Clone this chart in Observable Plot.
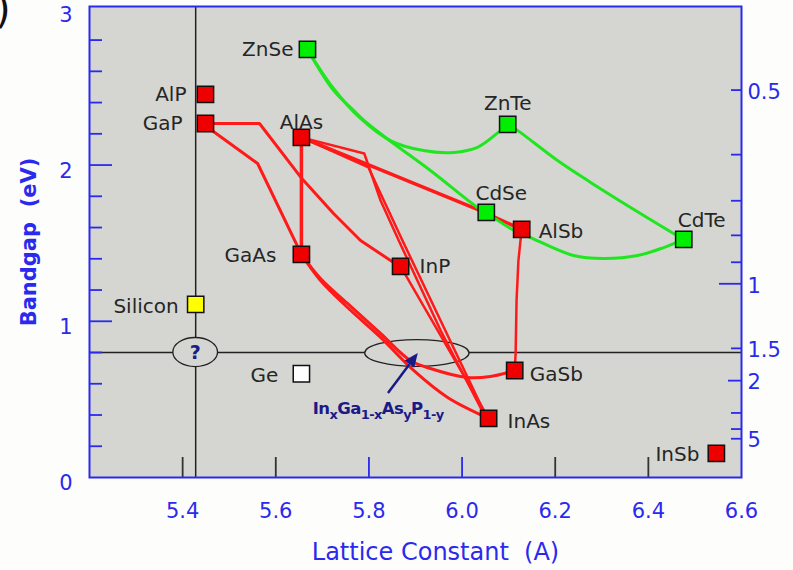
<!DOCTYPE html>
<html><head><meta charset="utf-8">
<script src="https://cdn.jsdelivr.net/npm/d3@7"></script>
<script src="https://cdn.jsdelivr.net/npm/@observablehq/plot@0.6"></script>
<style>
html,body{margin:0;padding:0;background:#fdfdfb;}
#wrap{position:relative;width:793px;height:570px;overflow:hidden;}
#paren{position:absolute;left:-5px;top:-11px;font:40px "DejaVu Sans",sans-serif;color:#111;z-index:2;line-height:1;}
svg{font-family:"DejaVu Sans",sans-serif;white-space:pre;}
</style></head><body><div id="wrap"><div id="paren">)</div></div>
<script>
// ---------- data ----------
const compounds   = ["ZnSe","ZnTe","CdSe","CdTe","AlP","GaP","AlAs","GaAs","InP","AlSb","GaSb","InAs","InSb","Silicon","Ge"];
const latticeConst= [5.668,6.098,6.052,6.476,5.449,5.449,5.655,5.655,5.868,6.128,6.113,6.057,6.546,5.428,5.655];
const bandgap     = [2.740,2.260,1.697,1.524,2.452,2.266,2.177,1.428,1.351,1.588,0.685,0.378,0.154,1.108,0.664];
const family      = ["II-VI","II-VI","II-VI","II-VI","III-V","III-V","III-V","III-V","III-V","III-V","III-V","III-V","III-V","Si","Ge"];

// alloy curves (lattice constant, bandgap)
const alloyGaAsP   = {lattice:[5.449,5.466,5.561,5.655], gap:[2.266,2.215,2.010,1.428]};
const alloyGaInP   = {lattice:[5.449,5.565,5.654,5.724,5.782,5.853,5.868], gap:[2.266,2.266,1.921,1.690,1.517,1.376,1.351]};
const alloyAlGaAs  = {lattice:[5.655,5.655], gap:[2.177,1.428]};
const alloyAlAsSb  = {lattice:[5.655,6.033,6.128], gap:[2.177,1.716,1.588]};
const alloyAlInAs  = {lattice:[5.655,5.790,5.825,5.864,5.954,6.046,6.057], gap:[2.177,2.074,1.773,1.517,0.941,0.410,0.378]};
const alloyAlInAs2 = {lattice:[5.655,5.799,5.872,6.052,6.057], gap:[2.177,1.985,1.517,0.391,0.378]};
const alloyInAsP   = {lattice:[5.868,6.057], gap:[1.351,0.378]};
const alloyGaInAs  = {lattice:[5.655,5.696,5.754,5.825,5.896,5.969,6.057], gap:[1.428,1.261,1.088,0.897,0.685,0.512,0.378]};
const alloyGaAsSb  = {lattice:[5.655,5.696,5.754,5.825,5.889,5.932,6.012,6.061,6.113], gap:[1.428,1.274,1.114,0.922,0.749,0.698,0.640,0.647,0.685]};
const alloyAlGaSb  = {lattice:[6.128,6.121,6.117,6.115,6.113], gap:[1.588,1.389,1.133,0.794,0.685]};
const alloyZnCdSe  = {lattice:[5.668,5.724,5.767,5.797,5.853,5.932,6.033,6.052], gap:[2.740,2.478,2.350,2.266,2.138,1.965,1.729,1.697]};
const alloyZnSeTe  = {lattice:[5.668,5.724,5.782,5.846,5.917,5.982,6.033,6.083,6.098], gap:[2.740,2.490,2.298,2.157,2.093,2.081,2.113,2.222,2.260]};
const alloyZnCdTe  = {lattice:[6.098,6.119,6.205,6.276,6.383,6.454,6.476], gap:[2.260,2.222,2.029,1.889,1.690,1.562,1.524]};
const alloyCdSeTe  = {lattice:[6.052,6.104,6.147,6.239,6.304,6.377,6.433,6.476], gap:[1.697,1.594,1.536,1.421,1.402,1.421,1.472,1.524]};

// reference lines and annotations
const siliconLattice = [5.428];
const targetGap = [0.80];
const ellipseLattice = [5.428, 5.904];
const ellipseGap = [0.80, 0.794];
const ellipseHalfWidth = [0.048, 0.112];
const ellipseHalfHeight = [0.093, 0.086];
const arrowFrom = [5.842, 0.538];
const arrowTo = [5.906, 0.794];
const formulaAt = [5.821, 0.405];

// ticks
const xTicksDark = [5.4, 5.6, 6.2, 6.4];
const xTicksBlue = [5.8, 6.0];
const xTickLabels = [5.4, 5.6, 5.8, 6.0, 6.2, 6.4, 6.6];
const yTicksMajor = [1, 2];
const yTicksMinor = [0.2,0.4,0.6,0.8,1.2,1.4,1.6,1.8,2.2,2.4,2.6,2.8];
const yTickLabels = [0, 1, 2, 3];
const wlTicksShort = [0.5,0.6,0.7,0.8,0.9,1.5,3,4,5];
const wlTicksMid = [2];
const wlTicksLong = [1];
const wlTickLabels = [0.5, 1, 1.5, 2, 5];
const hc = 1.24; // eV·µm

// ---------- styles ----------
const BLUE = "#2a2aee";
const BG = "#d5d6d2";
const RED = "#ff1a1a";
const GREEN = "#1fe61f";
const familyFill = {"II-VI":"#00ee00","III-V":"#ee0000","Si":"#ffff00","Ge":"#ffffff"};
const alloyStyle = [
  [alloyGaAsP, RED, 3, "linear"], [alloyGaInP, RED, 3, "linear"], [alloyAlGaAs, RED, 3.5, "linear"],
  [alloyAlAsSb, RED, 3.5, "linear"], [alloyAlInAs, RED, 2.5, "linear"], [alloyAlInAs2, RED, 2.5, "linear"],
  [alloyInAsP, RED, 2.5, "linear"], [alloyGaInAs, RED, 3, "catmull-rom"], [alloyGaAsSb, RED, 3, "catmull-rom"],
  [alloyAlGaSb, RED, 2.5, "linear"],
  [alloyZnCdSe, GREEN, 3, "catmull-rom"], [alloyZnSeTe, GREEN, 3, "catmull-rom"],
  [alloyZnCdTe, GREEN, 3, "catmull-rom"], [alloyCdSeTe, GREEN, 3, "catmull-rom"]
];
const labelLayout = {
  ZnSe:{anchor:"end",dx:-14,dy:0}, AlP:{anchor:"end",dx:-19,dy:0}, GaP:{anchor:"end",dx:-23,dy:0},
  AlAs:{anchor:"middle",dx:0,dy:-15}, GaAs:{anchor:"end",dx:-25,dy:1}, InP:{anchor:"start",dx:19,dy:0},
  ZnTe:{anchor:"middle",dx:0,dy:-21}, CdSe:{anchor:"middle",dx:15,dy:-19}, AlSb:{anchor:"start",dx:17,dy:2},
  CdTe:{anchor:"middle",dx:18,dy:-19}, GaSb:{anchor:"start",dx:15,dy:4}, InAs:{anchor:"start",dx:19,dy:3},
  InSb:{anchor:"end",dx:-17,dy:1}, Silicon:{anchor:"end",dx:-17,dy:2}, Ge:{anchor:"end",dx:-23,dy:2}
};

const points = compounds.map((name,i)=>({name, a:latticeConst[i], E:bandgap[i], fam:family[i]}));

function ellipses(index, scales) {
  const g = d3.create("svg:g");
  ellipseLattice.forEach((a,i)=>{
    const cx = scales.x(a), cy = scales.y(ellipseGap[i]);
    const rx = scales.x(a + ellipseHalfWidth[i]) - cx;
    const ry = cy - scales.y(ellipseGap[i] + ellipseHalfHeight[i]);
    g.append("ellipse").attr("cx",cx).attr("cy",cy).attr("rx",rx).attr("ry",ry)
      .attr("fill",BG).attr("stroke","#222").attr("stroke-width",1.3);
  });
  return g.node();
}

function annotations(index, scales) {
  const g = d3.create("svg:g");
  const NAVY = "#1a1a86";
  g.append("text").attr("x", scales.x(ellipseLattice[0])).attr("y", scales.y(ellipseGap[0]))
    .attr("text-anchor","middle").attr("dy","0.36em").attr("font-size",19).attr("font-weight","bold")
    .attr("fill",NAVY).text("?");
  const x1 = scales.x(arrowFrom[0]), y1 = scales.y(arrowFrom[1]);
  const x2 = scales.x(arrowTo[0]), y2 = scales.y(arrowTo[1]);
  const ang = Math.atan2(y2-y1, x2-x1), hl = 14, hw = 6;
  const bx = x2 - hl*Math.cos(ang), by = y2 - hl*Math.sin(ang);
  g.append("line").attr("x1",x1).attr("y1",y1).attr("x2",bx).attr("y2",by)
    .attr("stroke",NAVY).attr("stroke-width",2.5);
  g.append("path").attr("fill",NAVY).attr("d",
    `M${x2},${y2}L${bx + hw*Math.sin(ang)},${by - hw*Math.cos(ang)}L${bx - hw*Math.sin(ang)},${by + hw*Math.cos(ang)}Z`);
  const t = g.append("text").attr("x", scales.x(formulaAt[0])).attr("y", scales.y(formulaAt[1]))
    .attr("text-anchor","middle").attr("font-size",16.5).attr("font-weight","bold")
    .attr("letter-spacing","-0.6").attr("fill",NAVY);
  const parts = [["In",0],["x",1],["Ga",0],["1-x",1],["As",0],["y",1],["P",0],["1-y",1]];
  let prev = 0;
  parts.forEach(([s,sub])=>{
    const ts = t.append("tspan").text(s);
    if (sub !== prev) ts.attr("dy", sub ? 5 : -5);
    if (sub) ts.attr("font-size", 13);
    prev = sub;
  });
  return g.node();
}

const lineMarks = alloyStyle.map(([al, color, w, curve]) =>
  Plot.line(al.lattice.map((a,i)=>({a, E: al.gap[i]})), {x:"a", y:"E", stroke: color, strokeWidth: w, curve, strokeLinejoin:"round"}));

const labelMarks = points.map(p => {
  const L = labelLayout[p.name];
  return Plot.text([p], {x:"a", y:"E", text:"name", textAnchor:L.anchor, dx:L.dx, dy:L.dy, fontSize:20, fill:"#262626"});
});

const chart = Plot.plot({
  width: 793, height: 570,
  marginLeft: 89, marginRight: 52, marginTop: 6, marginBottom: 93,
  x: {domain: [5.2, 6.6]},
  y: {domain: [0, 3.015]},
  color: {type: "identity"},
  style: {background: "transparent", fontFamily: "DejaVu Sans, sans-serif", overflow: "visible"},
  marks: [
    Plot.frame({fill: BG}),
    Plot.ruleX(siliconLattice, {stroke: "#222", strokeWidth: 1.5}),
    Plot.ruleY(targetGap, {stroke: "#222", strokeWidth: 1.5}),
    ellipses,
    ...lineMarks,
    Plot.dot(points, {x:"a", y:"E", symbol:"square", r:9.2, fill: d => familyFill[d.fam], stroke:"#111", strokeWidth:1.5}),
    ...labelMarks,
    annotations,
    // x axis
    Plot.axisX({ticks: xTicksDark, tickSize: -20, tickFormat: () => "", color: "#333", strokeWidth: 1.8, label: null}),
    Plot.axisX({ticks: xTicksBlue, tickSize: -20, tickFormat: () => "", color: BLUE, strokeWidth: 1.8, label: null}),
    Plot.axisX({ticks: xTickLabels, tickSize: 0, tickPadding: 26, tickFormat: d3.format(".1f"), color: BLUE, fontSize: 21, label: null}),
    // left axis
    Plot.axisY({ticks: yTicksMajor, tickSize: -23, tickFormat: () => "", color: BLUE, strokeWidth: 1.8, label: null}),
    Plot.axisY({ticks: yTicksMinor, tickSize: -13, tickFormat: () => "", color: BLUE, strokeWidth: 1.8, label: null}),
    Plot.axisY({ticks: yTickLabels, tickSize: 0, tickPadding: 17, dy: 6, tickFormat: d3.format("d"), color: BLUE, fontSize: 21, label: null}),
    // right axis (wavelength, µm)
    Plot.axisY({anchor: "right", ticks: wlTicksShort.map(l => hc/l), tickSize: -11, tickFormat: () => "", color: BLUE, strokeWidth: 1.8, label: null}),
    Plot.axisY({anchor: "right", ticks: wlTicksMid.map(l => hc/l), tickSize: -14, tickFormat: () => "", color: BLUE, strokeWidth: 1.8, label: null}),
    Plot.axisY({anchor: "right", ticks: wlTicksLong.map(l => hc/l), tickSize: -23, tickFormat: () => "", color: BLUE, strokeWidth: 1.8, label: null}),
    Plot.axisY({anchor: "right", ticks: wlTickLabels.map(l => hc/l), tickSize: 0, tickPadding: 6, dy: 2,
      tickFormat: d => String(+(hc/d).toPrecision(3)), color: BLUE, fontSize: 21, label: null}),
    // titles
    Plot.text(["Lattice Constant  (A)"], {frameAnchor: "bottom", lineAnchor: "middle", textAnchor: "middle", dx: 20, dy: 75, fontSize: 24, fill: BLUE}),
    Plot.text(["Bandgap  (eV)"], {frameAnchor: "left", textAnchor: "middle", lineAnchor: "middle", rotate: -90, dx: -60, fontSize: 21, fontWeight: "bold", fill: BLUE}),
    Plot.frame({stroke: BLUE, strokeWidth: 2})
  ]
});
document.getElementById("wrap").appendChild(chart);
</script>
</body></html>
